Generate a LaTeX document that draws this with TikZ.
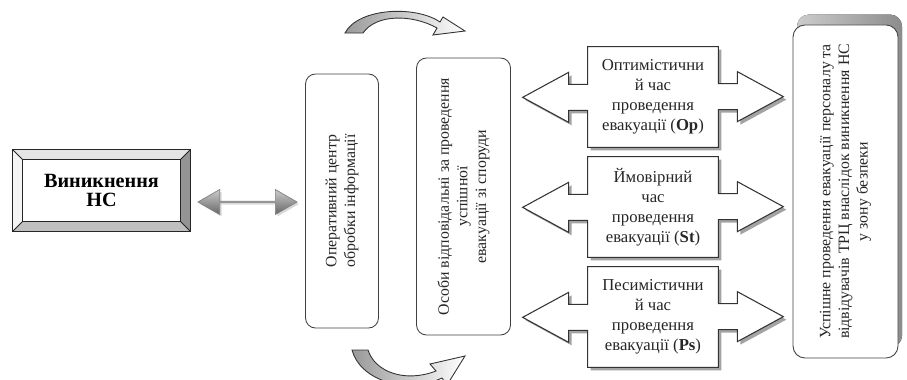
\documentclass[tikz,border=0pt]{standalone}
\usepackage{fontspec}
\setmainfont{Liberation Serif}
\usetikzlibrary{shapes.arrows,shadows,calc,backgrounds}

\begin{document}
\begin{tikzpicture}[x=0.2mm,y=-0.2mm,
    round box/.style={draw=black!75,fill=white,line width=0.5pt,rounded corners=2mm,rotate=90,align=center,inner sep=0pt,text=black!85,font=\fontsize{9}{10.6}\selectfont},
    opt box/.style={minimum width=26mm,minimum height=20mm,inner sep=0pt,align=center,text=black!85,font=\fontsize{9.5}{11.3}\selectfont},
    opt arrow/.style={draw=black!80,fill=white,line width=0.6pt,drop shadow={shadow xshift=0.6mm,shadow yshift=-0.6mm,fill=black!60,opacity=0.6}},
    bevel line/.style={draw=black!85,line width=0.6pt},
    curve arrow/.style={draw=black!80,line width=0.5pt,left color=black!40,right color=white}]
    \useasboundingbox (0,0) rectangle (907,380);
    \clip (0,0) rectangle (907,380);

    % source of the emergency
    \node[minimum width=35.4mm,minimum height=16.2mm,inner sep=0pt,align=center,font=\fontsize{11.5}{13.6}\selectfont\bfseries] (ev) at (101.5,190.5) {\raisebox{-1mm}{\shortstack{Виникнення\\НС}}};
    \fill[black!10] (ev.north west) -- (ev.north east) -- ++(-10,10) -- ($(ev.north west)+(10,10)$) -- cycle;
    \fill[black!4] (ev.north west) -- ($(ev.north west)+(10,10)$) -- ($(ev.south west)+(10,-10)$) -- (ev.south west) -- cycle;
    \fill[black!42] (ev.north east) -- ($(ev.north east)+(-10,10)$) -- ($(ev.south east)+(-10,-10)$) -- (ev.south east) -- cycle;
    \fill[black!25] (ev.south west) -- ($(ev.south west)+(10,-10)$) -- ($(ev.south east)+(-10,-10)$) -- (ev.south east) -- cycle;
    \draw[bevel line] (ev.north west) rectangle (ev.south east);
    \draw[bevel line] ($(ev.north west)+(10,10)$) rectangle ($(ev.south east)+(-10,-10)$);
    \draw[bevel line] (ev.north west) -- ++(10,10) (ev.north east) -- ++(-10,10)
        (ev.south west) -- ++(10,-10) (ev.south east) -- ++(-10,-10);

    % vertical boxes
    \node[round box,minimum width=50.8mm,minimum height=14.6mm] (oc) at (342,201) {Оперативний центр\\обробки інформації};
    \node[round box,minimum width=55.4mm,minimum height=18.8mm] (os) at (463.5,196.5) {Особи відповідальні за проведення\\успішної\\евакуації зі споруди};
    \node[round box,minimum width=66.6mm,minimum height=21mm,rounded corners=2.4mm] (res) at (845.5,191.5)
        {Успішне проведення евакуації персоналу та\\відвідувачів ТРЦ внаслідок виникнення НС\\у зону безпеки};

    % link between source and centre
    \node[double arrow,double arrow head extend=1.2mm,double arrow tip angle=60,minimum height=19.8mm,minimum width=5mm,inner sep=0pt,
        top color=black!20,bottom color=black!60,draw=black!50,line width=0.4pt,
        drop shadow={shadow xshift=0.4mm,shadow yshift=-0.4mm,fill=black!30,opacity=0.5}] (da) at (247.5,202) {};

    % evacuation time estimates
    \node[opt box] (o1) at (653,97) {Оптимістични\\й час\\проведення\\евакуації (\textbf{Op})};
    \node[opt box] (o2) at (653,207) {Ймовірний\\час\\проведення\\евакуації (\textbf{St})};
    \node[opt box] (o3) at (653,317) {Песимістични\\й час\\проведення\\евакуації (\textbf{Ps})};
    \begin{scope}[on background layer]
        \fill[left color=black!20,right color=black!45,rounded corners=2.4mm] ($(res.center)+(-48.5,-177)$) rectangle ($(res.center)+(56.5,156)$);
        \draw[opt arrow] (o1.north west) -- (o1.north east) -- ++(0,37) -- ++(19,0) -- ++(0,-12) -- ++(46,25) -- ++(-46,25) -- ++(0,-12) -- ++(-19,0) -- (o1.south east) -- (o1.south west) -- ++(0,-37) -- ++(-19,0) -- ++(0,12) -- ++(-46,-25) -- ++(46,-25) -- ++(0,12) -- ++(19,0) -- cycle;
        \draw[opt arrow] (o2.north west) -- (o2.north east) -- ++(0,37) -- ++(19,0) -- ++(0,-12) -- ++(46,25) -- ++(-46,25) -- ++(0,-12) -- ++(-19,0) -- (o2.south east) -- (o2.south west) -- ++(0,-37) -- ++(-19,0) -- ++(0,12) -- ++(-46,-25) -- ++(46,-25) -- ++(0,12) -- ++(19,0) -- cycle;
        \draw[opt arrow] (o3.north west) -- (o3.north east) -- ++(0,37) -- ++(19,0) -- ++(0,-12) -- ++(46,25) -- ++(-46,25) -- ++(0,-12) -- ++(-19,0) -- (o3.south east) -- (o3.south west) -- ++(0,-37) -- ++(-19,0) -- ++(0,12) -- ++(-46,-25) -- ++(46,-25) -- ++(0,12) -- ++(19,0) -- cycle;
    \end{scope}

    % curved arrows above and below the boxes
    \draw[curve arrow] (345,33) .. controls (358,8) and (415,5) .. (440,22) -- (443,17) -- (465,31) -- (433,35) -- (437,28) .. controls (412,14) and (376,14) .. (363,33) -- cycle;
    \draw[curve arrow] (352,350) .. controls (360,380) and (405,395) .. (442,378) -- (447,385) -- (465,356) -- (430,364) -- (436,371) .. controls (405,383) and (375,372) .. (368,350) -- cycle;
\end{tikzpicture}
\end{document}
